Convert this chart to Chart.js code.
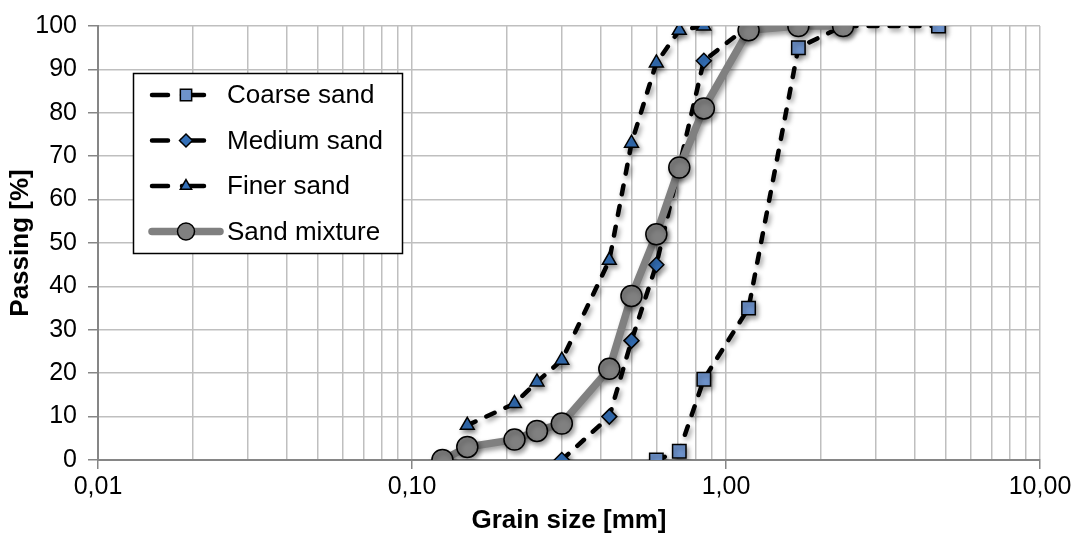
<!DOCTYPE html>
<html>
<head>
<meta charset="utf-8">
<script src="https://cdn.jsdelivr.net/npm/chart.js@4.4.1/dist/chart.umd.min.js"></script>
<style>
  html, body { margin: 0; padding: 0; background: #ffffff; }
  #c { display: block; }
</style>
</head>
<body>
<canvas id="c" width="1080" height="534"></canvas>
<script>
// ---- data (grain size in mm, passing in %) ----
const coarseX = [0.6, 0.71, 0.85, 1.18, 1.7, 2.36, 4.75];
const coarseY = [0, 2, 18.6, 35, 95, 100, 100];

const mediumX = [0.3, 0.425, 0.5, 0.6, 0.85, 1.18];
const mediumY = [0, 10, 27.5, 45, 92, 100];

const finerX = [0.15, 0.212, 0.25, 0.3, 0.425, 0.5, 0.6, 0.71, 0.85];
const finerY = [8, 13, 18, 23, 46, 73, 91.5, 99, 100];

const mixX = [0.125, 0.15, 0.212, 0.25, 0.3, 0.425, 0.5, 0.6, 0.71, 0.85, 1.18, 1.7, 2.36];
const mixY = [0, 3, 4.7, 6.7, 8.4, 21, 37.8, 52, 67.4, 81, 99, 100, 100];

const seriesNames = ['Coarse sand', 'Medium sand', 'Finer sand', 'Sand mixture'];

// ---- axis ticks ----
const xMajorTicks = [0.01, 0.1, 1, 10];
const xMajorLabels = ['0,01', '0,10', '1,00', '10,00'];
const yTicks = [0, 10, 20, 30, 40, 50, 60, 70, 80, 90, 100];

// gridline positions for the log axis (1..9 x each decade)
const xGridValues = [];
xMajorTicks.forEach((d, i) => {
  xGridValues.push(d);
  if (i < xMajorTicks.length - 1) {
    for (let m = 2; m <= 9; m++) xGridValues.push(+(d * m).toPrecision(6));
  }
});

const FONT = "'Liberation Sans', Arial, sans-serif";
const TICK_SIZE = 25;
const TEXT_SIZE = 26;
const pts = (xs, ys) => xs.map((x, i) => ({ x: x, y: ys[i] }));
const isMajor = v => xMajorTicks.some(m => Math.abs(Math.log10(m) - Math.log10(v)) < 1e-6);
const majorLabel = v => {
  const i = xMajorTicks.findIndex(m => Math.abs(Math.log10(m) - Math.log10(v)) < 1e-6);
  return i >= 0 ? xMajorLabels[i] : '';
};

const dashedBase = {
  showLine: true,
  borderColor: '#000000',
  borderWidth: 4.5,
  borderDash: [9, 12],
  borderCapStyle: 'round',
  tension: 0,
  pointBorderColor: '#000000',
  pointBorderWidth: 1.5
};

const datasets = [
  Object.assign({}, dashedBase, {
    label: seriesNames[0], data: pts(coarseX, coarseY), order: 4,
    pointStyle: 'rect', pointRadius: 9.5, pointBackgroundColor: '#6E93CC'
  }),
  Object.assign({}, dashedBase, {
    label: seriesNames[1], data: pts(mediumX, mediumY), order: 3,
    pointStyle: 'rectRot', pointRadius: 7.5, pointBackgroundColor: '#3470B8'
  }),
  Object.assign({}, dashedBase, {
    label: seriesNames[2], data: pts(finerX, finerY), order: 2,
    pointStyle: 'triangle', pointRadius: 8, pointBackgroundColor: '#3470B8'
  }),
  {
    label: seriesNames[3], data: pts(mixX, mixY), order: 1,
    showLine: true, borderColor: '#808080', borderWidth: 7.5, tension: 0,
    borderCapStyle: 'round', borderJoinStyle: 'round',
    pointStyle: 'circle', pointRadius: 10.5, pointBackgroundColor: '#808080',
    pointBorderColor: '#000000', pointBorderWidth: 1.5
  }
];

// soft shadow for series, like the original
const shadowPlugin = {
  id: 'shadow',
  beforeDatasetDraw(chart) {
    const c = chart.ctx;
    c.save();
    c.shadowColor = 'rgba(0,0,0,0.40)';
    c.shadowBlur = 5;
    c.shadowOffsetX = 2;
    c.shadowOffsetY = 3;
  },
  afterDatasetDraw(chart) { chart.ctx.restore(); }
};

// legend box inside the plot area
const legendPlugin = {
  id: 'boxLegend',
  afterDraw(chart) {
    const c = chart.ctx;
    const bx = 133.5, by = 73.5, bw = 269, bh = 180;
    c.save();
    c.fillStyle = '#ffffff';
    c.fillRect(bx, by, bw, bh);
    c.strokeStyle = '#000000';
    c.lineWidth = 1.5;
    c.strokeRect(bx, by, bw, bh);
    const rows = [95, 140.5, 186, 231.5];
    chart.data.datasets.forEach((ds, i) => {
      const y = rows[i];
      c.strokeStyle = ds.borderColor;
      c.lineWidth = i < 3 ? 4.5 : 7.5;
      c.setLineDash([]);
      c.lineCap = 'round';
      c.beginPath();
      if (i < 3) {
        c.moveTo(152, y); c.lineTo(168, y);
        c.moveTo(182, y); c.lineTo(204, y);
      } else {
        c.moveTo(152, y); c.lineTo(220, y);
      }
      c.stroke();
      c.fillStyle = ds.pointBackgroundColor;
      c.strokeStyle = ds.pointBorderColor;
      c.lineWidth = ds.pointBorderWidth;
      const r = i === 3 ? 8.5 : (i === 0 ? 8 : 6.5);
      Chart.helpers.drawPoint(c, { pointStyle: ds.pointStyle, rotation: 0, radius: r, borderWidth: ds.pointBorderWidth }, 186, y);
      c.fillStyle = '#000000';
      c.font = TEXT_SIZE + 'px ' + FONT;
      c.textBaseline = 'middle';
      c.textAlign = 'left';
      c.fillText(ds.label, 227, y + 1);
    });
    c.restore();
  }
};

new Chart(document.getElementById('c'), {
  type: 'scatter',
  data: { datasets: datasets },
  plugins: [shadowPlugin, legendPlugin],
  options: {
    responsive: false,
    animation: false,
    events: [],
    layout: { padding: { left: 0, right: 40, top: 24, bottom: 0 } },
    plugins: {
      legend: { display: false },
      tooltip: { enabled: false }
    },
    scales: {
      x: {
        type: 'logarithmic',
        min: 0.01, max: 10,
        afterBuildTicks(scale) {
          scale.ticks = xGridValues.map(v => ({ value: v, major: false }));
        },
        afterFit(scale) { scale.height = 74; },
        ticks: {
          autoSkip: false, maxRotation: 0, minRotation: 0,
          padding: 3,
          color: '#000000',
          font: { family: FONT, size: TICK_SIZE },
          callback: (v) => majorLabel(v)
        },
        grid: {
          color: '#BFBFBF', lineWidth: 1.5,
          tickLength: 9,
          tickColor: (ctx) => (ctx.tick && isMajor(ctx.tick.value)) ? '#868686' : 'rgba(0,0,0,0)',
          tickWidth: 1.5
        },
        border: { color: '#868686', width: 2 },
        title: {
          display: true, text: 'Grain size [mm]', color: '#000000',
          font: { family: FONT, size: TEXT_SIZE, weight: 'bold', lineHeight: 1 },
          padding: { top: 0, bottom: 0 }
        }
      },
      y: {
        min: 0, max: 100,
        afterBuildTicks(scale) {
          scale.ticks = yTicks.map(v => ({ value: v }));
        },
        afterFit(scale) { scale.width = 98; },
        ticks: {
          padding: 11,
          color: '#000000',
          font: { family: FONT, size: TICK_SIZE },
          callback: (v) => String(v)
        },
        grid: { color: '#BFBFBF', lineWidth: 1.5, tickLength: 10, tickColor: '#868686', tickWidth: 1.5 },
        border: { color: '#868686', width: 2 },
        title: {
          display: true, text: 'Passing [%]', color: '#000000',
          font: { family: FONT, size: TEXT_SIZE, weight: 'bold', lineHeight: 1 },
          padding: { top: 8, bottom: 0 }
        }
      }
    }
  }
});
</script>
</body>
</html>
